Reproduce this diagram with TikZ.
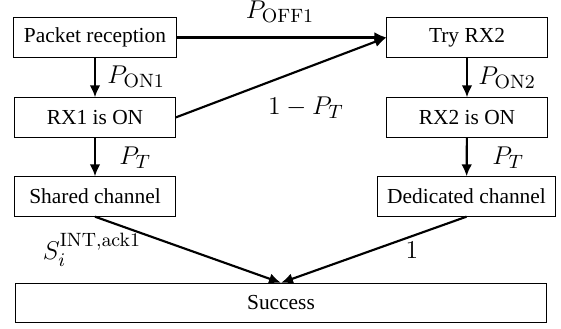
\documentclass[tikz,border=0pt]{standalone}
\usepackage[no-math]{fontspec}
\setmainfont{Liberation Serif}
\usetikzlibrary{arrows.meta}
\begin{document}
\begin{tikzpicture}[x=0.467pt,y=-0.467pt,
  box/.style={draw,line width=0.45pt,minimum width=74.8pt,minimum height=18.4pt,inner xsep=4.7pt,inner ysep=0pt,font=\rmfamily},
  conn/.style={line width=1pt,-{Latex[length=5.6pt,width=5pt]}},
  lab/.style={inner sep=0pt,font=\fontsize{13}{15}\selectfont}]
\useasboundingbox (0,0) rectangle (561,329);
\node[box] (pr) at (95,37.5) {Packet reception};
\node[box] (rx1) at (95,117.5) {RX1 is ON};
\node[box] (try) at (467,37.5) {Try RX2};
\node[box] (rx2) at (467,117.5) {RX2 is ON};
\node[box] (sh) at (95,196.5) {Shared channel};
\node[box] (ded) at (466.5,196.5) {Dedicated channel};
\node[box,minimum width=248.4pt] (succ) at (281,303) {Success};
\draw[conn] (pr) -- (rx1);
\draw[conn] (rx1) -- (sh);
\draw[conn] (try) -- (rx2);
\draw[conn] (rx2) -- (ded);
\draw[conn] (pr.east) -- (try.west);
\draw[conn] (rx1.east) -- (try.west);
\draw[conn] (sh.south) -- (succ.north);
\draw[conn] (ded.south) -- (succ.north);
\node[lab] (loff) at (280,12) {$P_{\mathrm{OFF1}}$};
\node[lab,anchor=west] (lon1) at (107,77) {$P_{\mathrm{ON1}}$};
\node[lab,anchor=west] (lt1) at (119,158) {$P_T$};
\node[lab,anchor=west] (lon2) at (478,78) {$P_{\mathrm{ON2}}$};
\node[lab,anchor=west] (lt2) at (492,158) {$P_T$};
\node[lab] (l1pt) at (306,108) {$1-P_T$};
\node[lab] (ls) at (92,250) {$S_i^{\mathrm{INT,ack1}}$};
\node[lab] (lone) at (412,250) {$1$};
\end{tikzpicture}
\end{document}
